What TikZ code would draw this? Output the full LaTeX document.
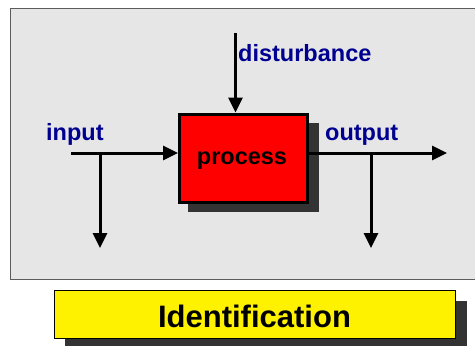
\documentclass[tikz,border=0pt]{standalone}
\usepackage{fontspec}
\setmainfont{Liberation Sans}
\usetikzlibrary{arrows.meta}
\definecolor{panelgray}{HTML}{E6E6E6}
\definecolor{shadowgray}{HTML}{333333}
\definecolor{labelblue}{HTML}{000090}
\tikzset{
  flow/.style={line width=3pt,-{Triangle[length=15pt,width=14pt]}},
  lbl/.style={anchor=base west,inner sep=0pt,text=labelblue,font=\fontsize{23.5}{26}\selectfont\bfseries},
}
\begin{document}
\begin{tikzpicture}[x=1pt,y=-1pt]
\useasboundingbox (0,0) rectangle (475,346);
\clip (0,0) rectangle (475,346);
% panel
\fill[white] (0,0) rectangle (475,346);
\draw[panelgray!40!black,line width=1pt,fill=panelgray] (10,8) rectangle (490,279);
% process box with shadow
\fill[shadowgray] (188,123) rectangle (319,212);
\node[draw=black,line width=3pt,fill=red,minimum width=128pt,minimum height=88pt,inner sep=0pt,anchor=north west] (proc) at (178,112.5) {};
\node[anchor=base,inner sep=0pt,font=\fontsize{23.5}{26}\selectfont\bfseries] (proctext) at (242,164) {process};
% labels
\node[lbl] (dist) at (238,61) {disturbance};
\node[lbl] (inp) at (46,140) {input};
\node[lbl] (outp) at (325,140) {output};
% connectors
\coordinate (dtop) at (235.5,33);
\coordinate (inS) at (71,153);
\coordinate (inB) at (100,153);
\coordinate (inD) at (100,248);
\coordinate (outB) at (371,153);
\coordinate (outD) at (371,248);
\coordinate (outE) at (447,153);
\draw[flow] (dtop) -- (dtop |- proc.north);
\draw[flow] (inS) -- (inS -| proc.west);
\draw[line width=3pt,-{Triangle[length=15pt,width=14pt]}] (inB) -- (inD);
\draw[flow] (proc.east |- outE) -- (outE);
\draw[flow] (outB) -- (outD);
% identification banner
\fill[shadowgray] (65,301) rectangle (467,350);
\node[draw=black,line width=1pt,fill=yellow,minimum width=401pt,minimum height=48pt,inner sep=0pt,anchor=north west] (ident) at (54,290) {};
\node[anchor=base,inner sep=0pt,font=\fontsize{31}{34}\selectfont\bfseries] (identtext) at (254.5,327) {Identification};
\end{tikzpicture}
\end{document}
